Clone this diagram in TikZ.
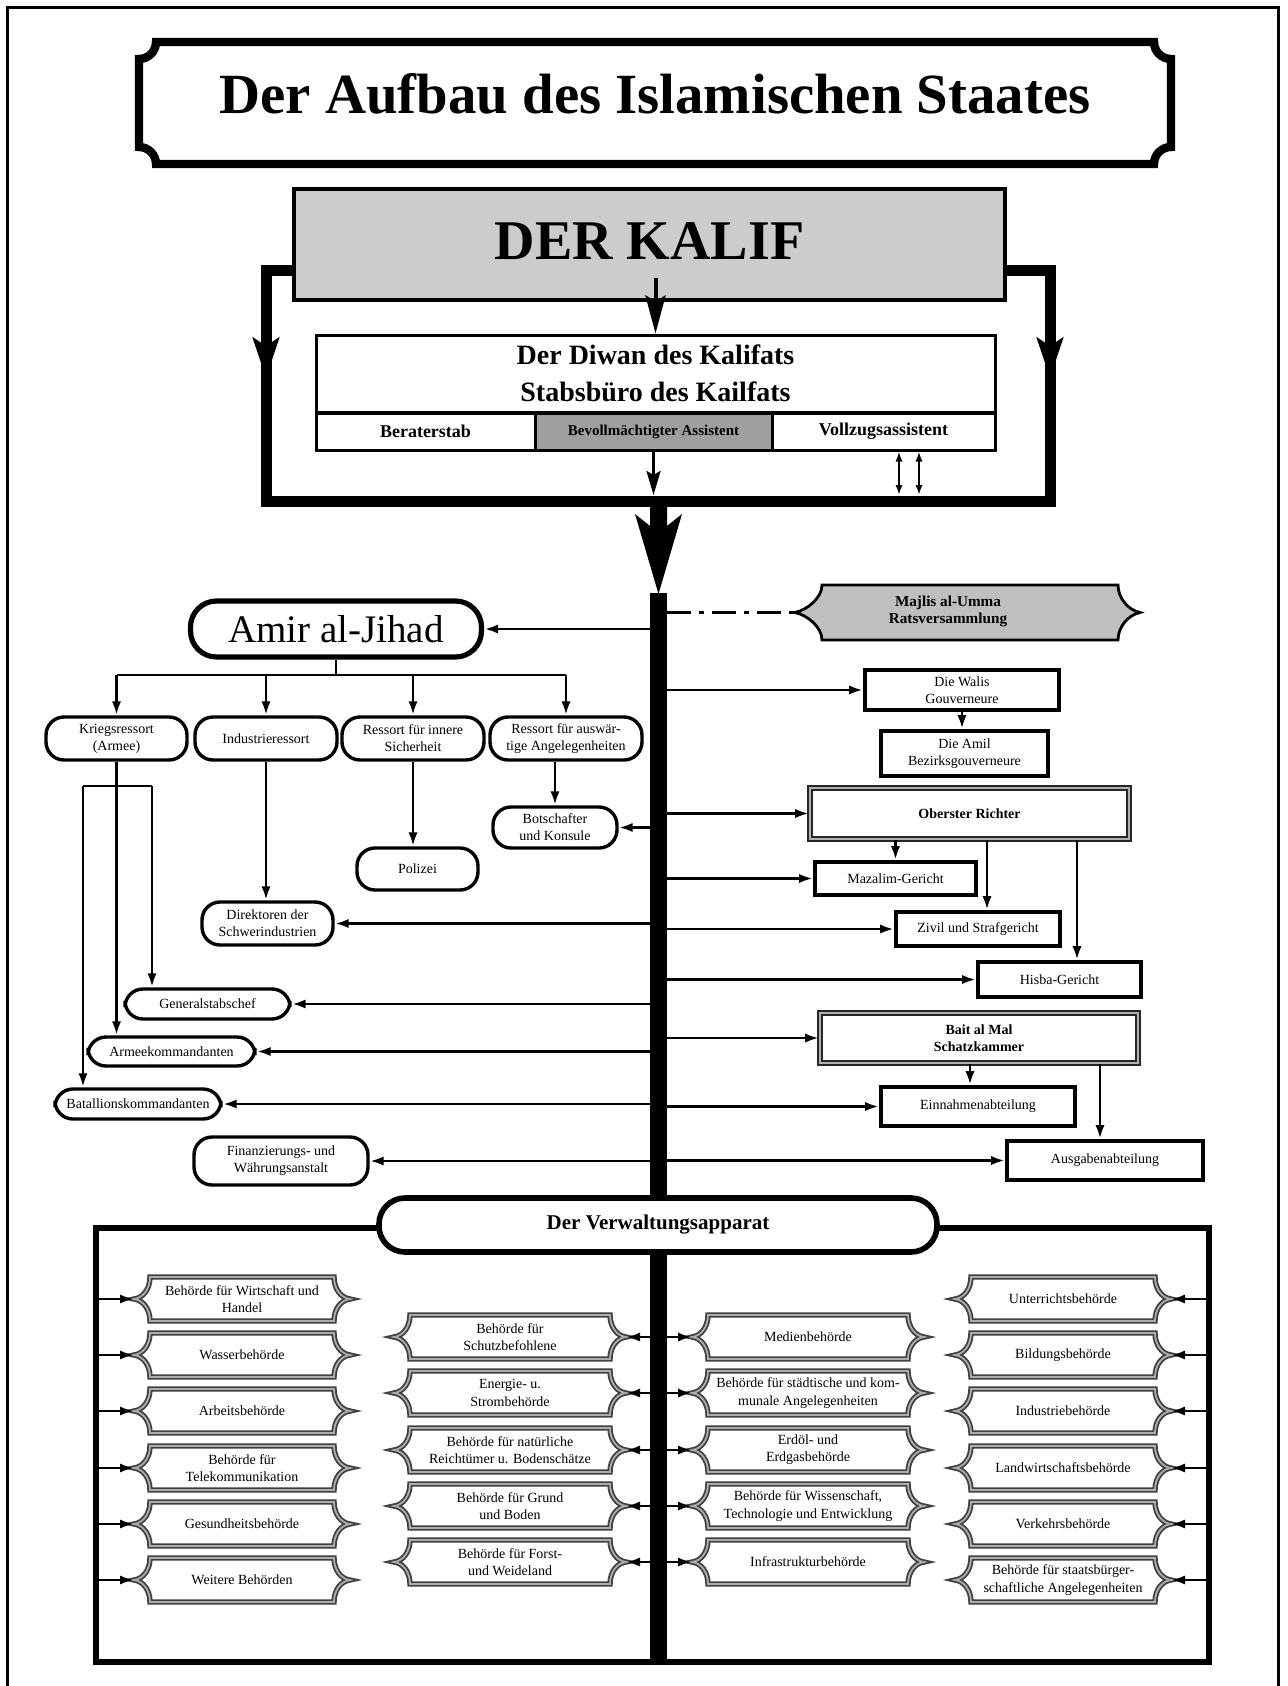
\documentclass[tikz,border=0pt]{standalone}
\usepackage{fontspec}
\setmainfont{Liberation Serif}
\usetikzlibrary{arrows.meta}
\newcommand\bhbox[5]{%
  \draw[bhline] ({#2-#4},{#3-22}) -- ({#2+#4},{#3-22})
   .. controls ({#2+#4},{#3-10}) and ({#2+#4+7},{#3-1}) .. ({#2+#4+16},{#3})
   .. controls ({#2+#4+7},{#3+1}) and ({#2+#4},{#3+10}) .. ({#2+#4},{#3+22})
   -- ({#2-#4},{#3+22})
   .. controls ({#2-#4},{#3+10}) and ({#2-#4-7},{#3+1}) .. ({#2-#4-16},{#3})
   .. controls ({#2-#4-7},{#3-1}) and ({#2-#4},{#3-10}) .. cycle;
  \node[txt] (#1) at (#2,#3) {#5};
  \coordinate (#1-w) at ({#2-#4-16},{#3});
  \coordinate (#1-e) at ({#2+#4+16},{#3});
}
\begin{document}
\begin{tikzpicture}[x=0.5pt,y=-0.5pt,
  conn/.style={line width=1.4pt},
  arr/.style={line width=1.4pt,-{Latex[length=7pt,width=4.6pt]}},
  darr/.style={line width=1pt,{Latex[length=5pt,width=3.6pt]}-{Latex[length=5pt,width=3.6pt]}},
  sz/.style 2 args={minimum width=#1*0.5pt,minimum height=#2*0.5pt},
  txt/.style={font=\fontsize{7}{8.6}\selectfont, align=center, inner sep=0pt},
  pill/.style={txt, draw, line width=1.7pt, rounded corners=9pt, fill=white},
  rbox/.style={txt, draw, line width=1.9pt, fill=white},
  dbox/.style={txt, draw=black!85, line width=0.8pt, double=gray!60, double distance=1.1pt, fill=white, font=\bfseries\fontsize{7}{8.6}\selectfont},
  bhline/.style={draw=black!75, line width=0.9pt, double=gray!65, double distance=0.9pt, fill=white},
  sub/.style={draw, line width=1.5pt, fill=white, inner sep=0pt, sz={#1}{37}, font=\bfseries\fontsize{9}{10}\selectfont},
  thick frame/.style={line width=5.5pt},
  sidehead/.style={line width=5.5pt,-{Stealth[length=20pt,width=13pt,inset=4pt]}},
  karr/.style={line width=2pt,-{Stealth[length=19pt,width=10pt,inset=3pt]}},
  barr/.style={line width=1.6pt,-{Stealth[length=12pt,width=7pt,inset=2pt]}},
  ]
\useasboundingbox (0,0) rectangle (1287,1686);
\fill[white] (0,0) rectangle (1287,1686);
% page border
\draw[line width=1.5pt] (7,1686) -- (7,8) -- (1278,8) -- (1278,1686);
% title frame
\draw[line width=4.2pt] (156,42) -- (1154,42) .. controls (1154,51.4) and (1161.6,59) .. (1171,59)
  -- (1171,147) .. controls (1161.6,147) and (1154,154.6) .. (1154,164)
  -- (156,164) .. controls (156,154.6) and (148.4,147) .. (139,147)
  -- (139,59) .. controls (148.4,59) and (156,51.4) .. (156,42) -- cycle;
\node[font=\bfseries\fontsize{28.4}{32}\selectfont, anchor=base, inner sep=0pt] (title) at (655,113) {Der Aufbau des Islamischen Staates};
% thick frame round the Diwan
\draw[thick frame] (294,270) -- (266,270) -- (266,501) -- (1050,501) -- (1050,270) -- (1005,270);
\draw[sidehead] (266,300) -- (266,378);
\draw[sidehead] (1050,300) -- (1050,378);
% Kalif
\node[draw, line width=2pt, fill=gray!40, sz={711}{111}, inner sep=0pt, font=\bfseries\fontsize{28}{32}\selectfont] (kalif) at (649.5,244.5) {\raisebox{3.5pt}{DER KALIF}};
% Diwan
\node[draw, line width=1.5pt, fill=white, sz={679}{77}, align=center, inner sep=0pt, font=\bfseries\fontsize{14}{18.5}\selectfont] (diwan) at (655.5,373.5) {Der Diwan des Kalifats\\Stabsbüro des Kailfats};
\coordinate (ks) at ([yshift=12pt]kalif.south);
\draw[karr] (ks -| diwan.north) -- (diwan.north);
\node[sub=219] (berater) at (425.5,431.5) {Beraterstab};
\node[sub=237, fill=gray!75, font=\bfseries\fontsize{7.5}{9}\selectfont] (bevoll) at (653.5,431.5) {Bevollmächtigter Assistent};
\node[sub=223] (vollzug) at (883.5,431.5) {Vollzugsassistent};
\coordinate (d1) at (899,495);
\coordinate (d2) at (919,495);
\draw[barr] (bevoll.south) -- (bevoll.south |- d1);
\draw[darr] (vollzug.south -| d1) -- (d1);
\draw[darr] (vollzug.south -| d2) -- (d2);
% big arrow and spine
\fill (650,506) -- (667,506) -- (667,526) -- (682,514) -- (658.5,594) -- (635,514) -- (650,526) -- cycle;
\node[fill=black, inner sep=0pt, sz={17}{606}] (spine) at (658.5,896) {};
% left side
\node[pill, line width=2.6pt, rounded corners=13pt, sz={291}{56}, font=\fontsize{19.5}{22}\selectfont] (amir) at (336,629) {Amir al-Jihad};
\node[pill, sz={141}{43}] (kriegs) at (116.5,738.5) {Kriegsressort\\(Armee)};
\node[pill, sz={142}{43}] (industrie) at (266,738.5) {Industrieressort};
\node[pill, sz={142}{43}] (innere) at (413,738.5) {Ressort für innere\\Sicherheit};
\node[pill, sz={152}{43}] (auswaertig) at (566,738.5) {Ressort für auswär-\\tige Angelegenheiten};
\node[pill, sz={124}{41}] (botsch) at (555,827.5) {Botschafter\\und Konsule};
\node[pill, sz={121}{42}] (polizei) at (417.5,869) {Polizei};
\node[pill, sz={131}{43}] (direkt) at (267.5,923.5) {Direktoren der\\Schwerindustrien};
\node[pill, sz={165}{30}] (genst) at (207.5,1004) {Generalstabschef};
\node[pill, sz={167}{29}] (armee) at (171.5,1051.5) {Armeekommandanten};
\node[pill, sz={166}{30}] (batal) at (138,1104) {Batallionskommandanten};
\node[pill, sz={174}{48}] (finanz) at (281,1161) {Finanzierungs- und\\Währungsanstalt};
\coordinate (jbar) at (336,675);
\draw[conn] (amir.south) -- (jbar);
\draw[conn] (jbar -| kriegs.north) -- (jbar -| auswaertig.north);
\foreach \n in {kriegs,industrie,innere,auswaertig} \draw[arr] (jbar -| \n.north) -- (\n.north);
\draw[arr] (kriegs.south) -- (kriegs.south |- armee.north);
\coordinate (kbL) at (83,786);
\coordinate (kbR) at (152,786);
\draw[conn] (kbL) -- (kbR);
\draw[arr] (kbL) -- (kbL |- batal.north);
\draw[arr] (kbR) -- (kbR |- genst.north);
\draw[arr] (industrie.south) -- (industrie.south |- direkt.north);
\draw[arr] (innere.south) -- (innere.south |- polizei.north);
\draw[arr] (botsch.north |- auswaertig.south) -- (botsch.north);
\foreach \n in {amir,botsch,direkt,genst,armee,batal,finanz} \draw[arr] (spine.west |- \n.east) -- (\n.east);
% right side
\draw[line width=1.4pt, fill=gray!50] (822,585) -- (1118,585) .. controls (1118,598) and (1128,610) .. (1140,612.5)
  .. controls (1128,615) and (1118,627) .. (1118,640) -- (822,640)
  .. controls (822,627) and (807,615) .. (795,612.5) .. controls (807,610) and (822,598) .. cycle;
\node[align=center, inner sep=0pt, font=\bfseries\fontsize{7.6}{8.6}\selectfont] (majlis) at (948,611) {Majlis al-Umma\\Ratsversammlung};
\coordinate (majlis-w) at (795,612.5);
\draw[line width=1.5pt, dash pattern=on 12pt off 4pt on 2.5pt off 4pt] (spine.east |- majlis-w) -- (majlis-w);
\node[rbox, sz={194}{40}] (walis) at (962,690) {Die Walis\\Gouverneure};
\node[rbox, sz={167}{45}] (amil) at (964.5,753.5) {Die Amil\\Bezirksgouverneure};
\node[dbox, sz={319}{51}] (oberster) at (969.5,813.5) {Oberster Richter};
\node[rbox, sz={161}{33}] (mazalim) at (895.5,878.5) {Mazalim-Gericht};
\node[rbox, sz={164}{34}] (zivil) at (978,929) {Zivil und Strafgericht};
\node[rbox, sz={163}{35}] (hisba) at (1059.5,979.5) {Hisba-Gericht};
\node[dbox, sz={318}{50}] (bait) at (979,1038) {Bait al Mal\\Schatzkammer};
\node[rbox, sz={194}{39}] (einn) at (978,1106.5) {Einnahmenabteilung};
\node[rbox, sz={196}{39}] (ausg) at (1105,1160.5) {Ausgabenabteilung};
\draw[arr] (walis.south) -- (walis.south |- amil.north);
\coordinate (zx) at (987,0);
\coordinate (hx) at (1077,0);
\coordinate (ex) at (970,0);
\coordinate (ax) at (1100,0);
\draw[arr] (oberster.south -| mazalim.north) -- (mazalim.north);
\draw[arr] (oberster.south -| zx) -- (zivil.north -| zx);
\draw[arr] (oberster.south -| hx) -- (hisba.north -| hx);
\draw[arr] (bait.south -| ex) -- (einn.north -| ex);
\draw[arr] (bait.south -| ax) -- (ausg.north -| ax);
\foreach \n in {walis,oberster,mazalim,zivil,hisba,bait,einn,ausg} \draw[arr] (spine.east |- \n.west) -- (\n.west);
% administration
\node[draw, line width=3.2pt, sz={1113}{434}, inner sep=0pt] (bigbox) at (652.5,1445) {};
\node[fill=black, inner sep=0pt, sz={17}{412}] (spine2) at (658.5,1457) {};
\node[draw, line width=2.8pt, fill=white, rounded corners=13pt, sz={558}{54}, inner sep=0pt, font=\bfseries\fontsize{10.5}{12}\selectfont] (verw) at (658,1225) {Der Verwaltungsapparat};
\bhbox{a1}{242}{1299}{92}{Behörde für Wirtschaft und\\Handel}
\bhbox{a2}{242}{1355}{92}{Wasserbehörde}
\bhbox{a3}{242}{1411}{92}{Arbeitsbehörde}
\bhbox{a4}{242}{1468}{92}{Behörde für\\Telekommunikation}
\bhbox{a5}{242}{1524}{92}{Gesundheitsbehörde}
\bhbox{a6}{242}{1580}{92}{Weitere Behörden}
\bhbox{b1}{510}{1337}{100}{Behörde für\\Schutzbefohlene}
\bhbox{b2}{510}{1393}{100}{Energie- u.\\Strombehörde}
\bhbox{b3}{510}{1450}{100}{Behörde für natürliche\\Reichtümer u. Bodenschätze}
\bhbox{b4}{510}{1506}{100}{Behörde für Grund\\und Boden}
\bhbox{b5}{510}{1562}{100}{Behörde für Forst-\\und Weideland}
\bhbox{c1}{808}{1337}{100}{Medienbehörde}
\bhbox{c2}{808}{1393}{100}{Behörde für städtische und kom-\\munale Angelegenheiten}
\bhbox{c3}{808}{1450}{100}{Erdöl- und\\Erdgasbehörde}
\bhbox{c4}{808}{1506}{100}{Behörde für Wissenschaft,\\Technologie und Entwicklung}
\bhbox{c5}{808}{1562}{100}{Infrastrukturbehörde}
\bhbox{d1}{1063}{1299}{92}{Unterrichtsbehörde}
\bhbox{d2}{1063}{1355}{92}{Bildungsbehörde}
\bhbox{d3}{1063}{1411}{92}{Industriebehörde}
\bhbox{d4}{1063}{1468}{92}{Landwirtschaftsbehörde}
\bhbox{d5}{1063}{1524}{92}{Verkehrsbehörde}
\bhbox{d6}{1063}{1580}{92}{Behörde für staatsbürger-\\schaftliche Angelegenheiten}
\foreach \n in {a1,a2,a3,a4,a5,a6} \draw[arr] (bigbox.west |- \n-w) -- (\n-w);
\foreach \n in {d1,d2,d3,d4,d5,d6} \draw[arr] (bigbox.east |- \n-e) -- (\n-e);
\foreach \n in {b1,b2,b3,b4,b5} \draw[arr] (spine2.west |- \n-e) -- (\n-e);
\foreach \n in {c1,c2,c3,c4,c5} \draw[arr] (spine2.east |- \n-w) -- (\n-w);
\end{tikzpicture}
\end{document}
